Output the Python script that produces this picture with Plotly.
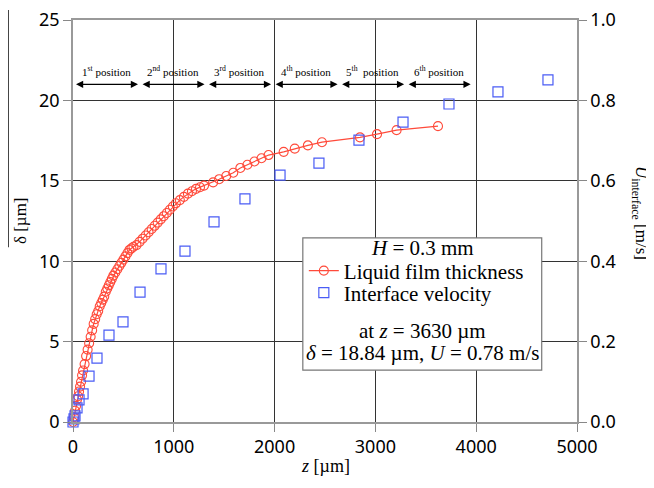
import plotly.graph_objects as go

# Liquid film thickness (z [um], delta [um])
film_z = [0, 10, 20, 30, 40, 50, 60, 70, 80, 90, 100, 115, 130, 145, 160, 175, 190, 205, 220, 235,
          250, 265, 280, 295, 310, 325, 340, 355, 370, 385, 400, 420, 440, 460, 480, 500, 520, 540,
          560, 580, 600, 630, 660, 690, 720, 750, 780, 810, 840, 870, 900, 930, 960, 990, 1020,
          1060, 1100, 1140, 1180, 1220, 1260, 1300, 1390, 1450, 1520, 1590, 1660, 1730, 1800,
          1870, 1940, 2090, 2200, 2330, 2470, 2847, 3016, 3210, 3621]
film_delta = [0.0, 0.3, 0.7, 1.0, 1.4, 1.6, 1.9, 2.2, 2.5, 2.9, 3.2, 3.6, 4.1, 4.5, 4.9, 5.3, 5.7,
              6.1, 6.4, 6.7, 6.9, 7.2, 7.4, 7.6, 7.8, 8.1, 8.3, 8.5, 8.7, 8.9, 9.1, 9.3, 9.5, 9.7,
              9.9, 10.1, 10.3, 10.5, 10.7, 10.8, 10.9, 11.0, 11.2, 11.4, 11.6, 11.8, 12.0, 12.2,
              12.4, 12.6, 12.8, 13.0, 13.2, 13.4, 13.6, 13.8, 14.0, 14.2, 14.35, 14.5, 14.6, 14.7,
              14.9, 15.1, 15.3, 15.5, 15.8, 16.0, 16.2, 16.4, 16.6, 16.8, 17.0, 17.2, 17.4, 17.7,
              17.9, 18.15, 18.4]

# Interface velocity (z [um], U [m/s])
vel_z = [0, 10, 20, 40, 60, 100, 159, 238, 357, 496, 665, 873, 1111, 1399, 1706, 2054, 2440,
         2837, 3274, 3730, 4216, 4712]
vel_u = [0.0, 0.008, 0.015, 0.035, 0.055, 0.07, 0.114, 0.159, 0.216, 0.249, 0.323, 0.381, 0.425,
         0.498, 0.555, 0.614, 0.644, 0.701, 0.746, 0.791, 0.821, 0.851]

# Measurement positions (z boundaries [um])
pos_edges = [0, 660, 1320, 1980, 2640, 3300, 3960]
pos_labels = ["1<sup>st</sup> position", "2<sup>nd</sup> position", "3<sup>rd</sup> position",
              "4<sup>th</sup> position", "5<sup>th</sup>  position", "6<sup>th</sup> position"]

x_ticks = [0, 1000, 2000, 3000, 4000, 5000]
y_ticks = [0, 5, 10, 15, 20, 25]
y2_ticks = [0.0, 0.2, 0.4, 0.6, 0.8, 1.0]

RED = "#ff4a3a"
BLUE = "#4a5cf5"
SERIF = "Liberation Serif"
SANS = "Noto Sans"
BOXFONT = 21

fig = go.Figure()
fig.add_trace(go.Scatter(
    x=film_z, y=film_delta, mode="lines+markers", name="Liquid film thickness",
    line=dict(color=RED, width=1.2),
    marker=dict(symbol="circle-open", size=9, color=RED, line=dict(width=1.1)),
    cliponaxis=False, legend="legend",
))
fig.add_trace(go.Scatter(
    x=vel_z, y=vel_u, mode="markers", name="Interface velocity", yaxis="y2",
    marker=dict(symbol="square-open", size=10, color=BLUE, line=dict(width=1.2)),
    cliponaxis=False, legend="legend2",
))

annotations = []
arrow_y = 21.0
for i, lab in enumerate(pos_labels):
    a, b = pos_edges[i], pos_edges[i + 1]
    annotations.append(dict(
        x=b - 15, y=arrow_y, ax=a + 15, ay=arrow_y, xref="x", yref="y", axref="x", ayref="y",
        text="", showarrow=True, arrowhead=2, arrowside="end+start", arrowsize=1.2,
        arrowwidth=1.2, arrowcolor="black",
    ))
    annotations.append(dict(
        x=(a + b) / 2, y=21.8, xref="x", yref="y", text=lab, showarrow=False,
        xanchor="center", yanchor="middle",
        font=dict(family=SERIF, size=11, color="black"),
    ))


def note(x, y, text, size, angle=0):
    return dict(x=x, y=y, xref="paper", yref="paper", text=text, showarrow=False,
                xanchor="center", yanchor="middle", textangle=angle,
                font=dict(family=SERIF, size=size, color="black"))


annotations += [
    note(0.5, -0.11, "<i>z</i> [µm]", 18),
    note(-0.105, 0.50, "δ [µm]", 17, -90),
    note(1.125, 0.52, "<i>U</i><sub>interface</sub> [m/s]", 17, 90),
    note(0.693, 0.432, "<i>H</i> = 0.3 mm", BOXFONT),
    note(0.693, 0.226, "at <i>z</i> = 3630 µm", BOXFONT),
    note(0.693, 0.172, "<i>δ</i> = 18.84 µm, <i>U</i> = 0.78 m/s", BOXFONT),
]

shapes = [
    dict(type="rect", xref="paper", yref="paper", x0=0.456, x1=0.93, y0=0.129, y1=0.458,
         line=dict(color="#777", width=1.2), fillcolor="white", layer="above"),
    dict(type="line", xref="paper", yref="paper", x0=-0.129, x1=-0.129, y0=0.435, y1=1.025,
         line=dict(color="black", width=1.5)),
]

axis_common = dict(
    ticks="outside", ticklen=8, tickwidth=1, tickcolor="#888",
    showline=True, linecolor="#999", linewidth=1.5, zeroline=False,
    tickfont=dict(family=SANS, size=18, color="black"), automargin=False,
    ticklabeloverflow="allow",
)

legend_common = dict(
    xanchor="left", yanchor="middle", bgcolor="rgba(0,0,0,0)", borderwidth=0,
    font=dict(family=SERIF, size=BOXFONT, color="black"), itemwidth=30,
)

fig.update_layout(
    width=646, height=480,
    margin=dict(l=65, r=77, t=12, b=66, autoexpand=False),
    paper_bgcolor="white", plot_bgcolor="white",
    showlegend=True,
    legend=dict(x=0.458, y=(422 - 271) / 402, **legend_common),
    legend2=dict(x=0.458, y=(422 - 293) / 402, **legend_common),
    xaxis=dict(range=[0, 5000], tickvals=x_ticks, showgrid=True, gridcolor="#333", gridwidth=1,
               mirror=True, **axis_common),
    yaxis=dict(range=[0, 25], tickvals=y_ticks, showgrid=True, gridcolor="#333", gridwidth=1,
               **axis_common),
    yaxis2=dict(range=[0, 1], tickvals=y2_ticks, tickformat=".1f", overlaying="y", side="right",
                showgrid=False, **axis_common),
    annotations=annotations,
    shapes=shapes,
)

fig.write_html("out.html")
